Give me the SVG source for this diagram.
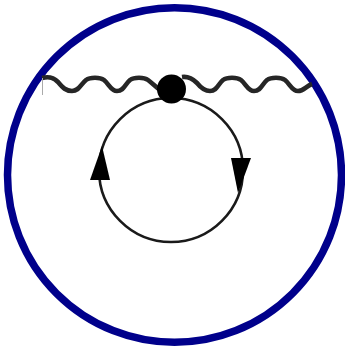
<svg xmlns="http://www.w3.org/2000/svg" width="345" height="350" viewBox="0 0 345 350">
<style>
.wave{fill:none;stroke:#262626;stroke-width:4.6;stroke-linejoin:round}
.loop{fill:none;stroke:#1a1a1a;stroke-width:2.6}
.head{fill:#000}
</style>
<rect width="345" height="350" fill="#fff"/>
<g id="boundary"><ellipse cx="174.500" cy="175" rx="167" ry="167.300" fill="none" stroke="#00008b" stroke-width="7.500"/></g>
<g id="connectors">
<path class="wave" d="M42 78 C50 76 54 78 58 82 C63 88 66 91 72 91 C79 91 81 84 86 80 C90 77 100 77 104 80 C109 84 111 91 117 91 C124 91 125 84 130 80 C134 77 144 77 148 80 C152 83 156 87 160 90"/>
<path class="wave" d="M182 77 C189 76 193 79 197 83 C201 88 205 91 210 91 C217 91 218 84 223 80 C227 77 237 77 241 80 C246 84 248 91 254 91 C261 91 262 84 267 80 C271 77 281 77 285 80 C290 84 292 91 298 91 C304 91 306 86 312 84"/>
<path d="M42.500 78V95" stroke="#aaa" stroke-width="1" fill="none"/>
<circle class="loop" cx="171" cy="170" r="72"/>
<path class="head" d="M102 146 L90 180 L110 180 Z"/>
<path class="head" d="M231 158 L251 158 L238 193 Z"/>
</g>
<g id="vertex"><circle cx="171.500" cy="89" r="14.500" fill="#000"/></g>
</svg>
